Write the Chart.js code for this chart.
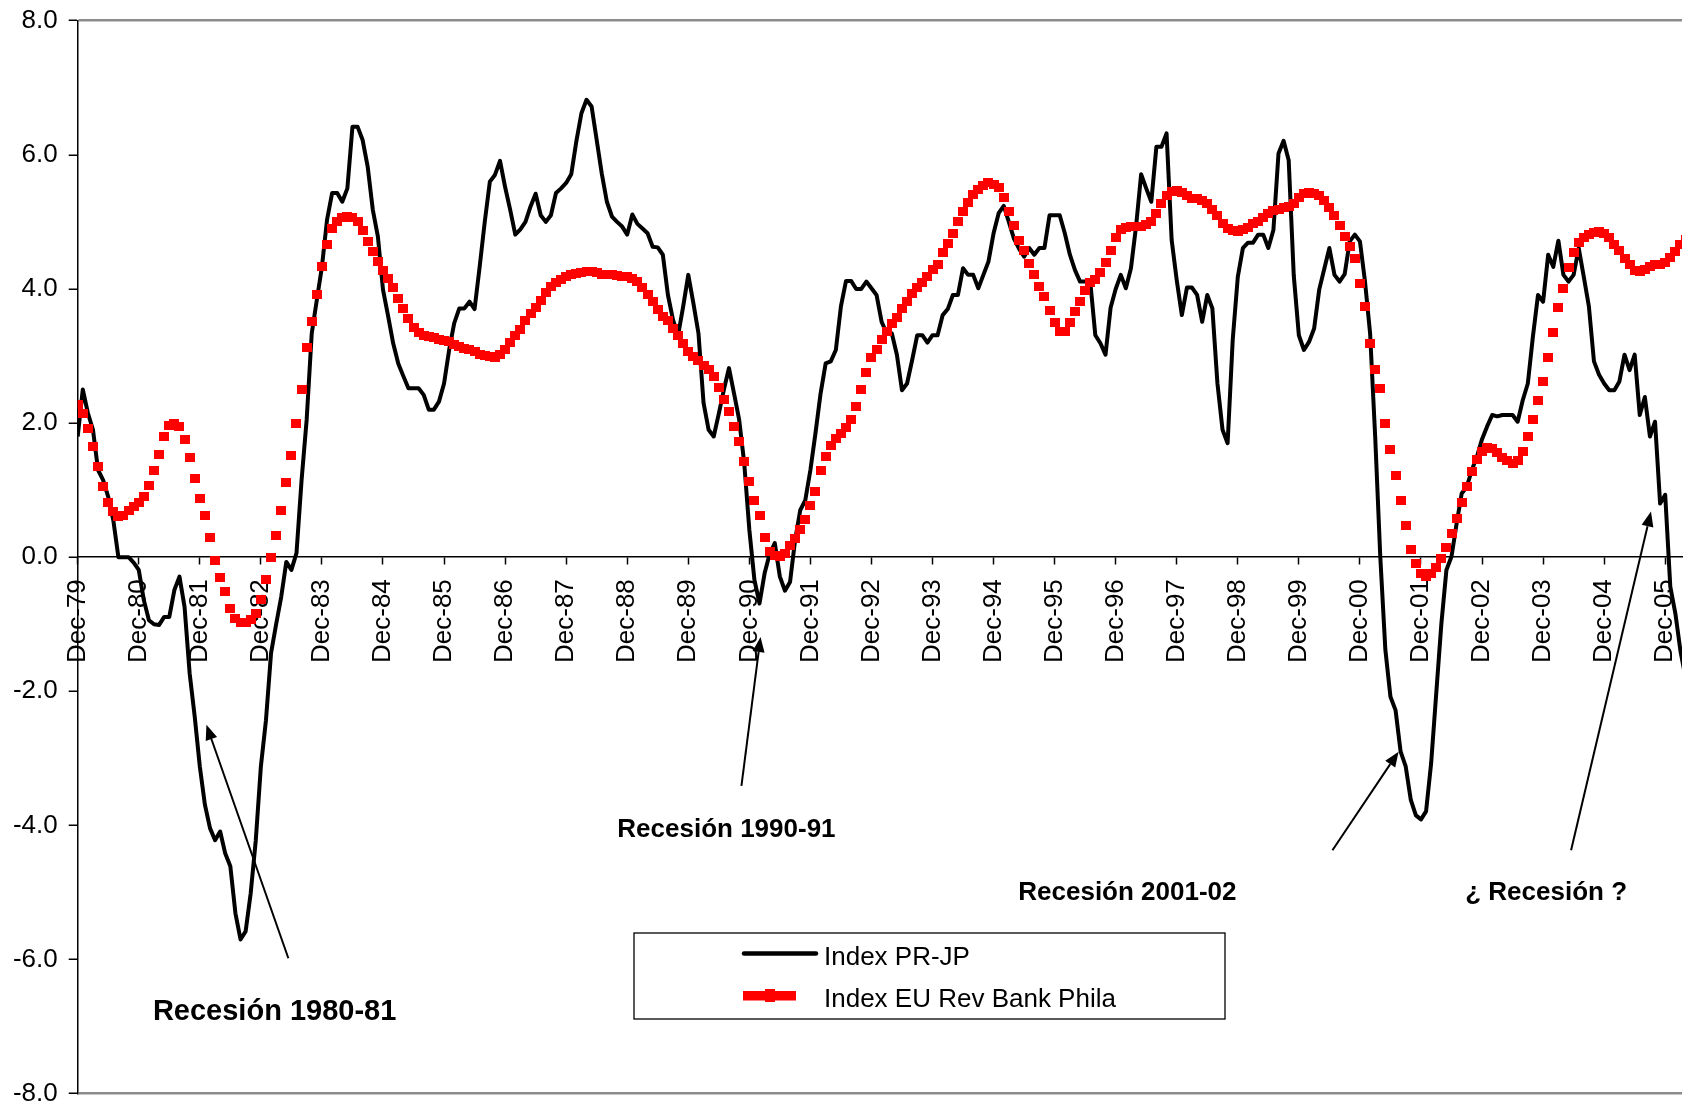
<!DOCTYPE html>
<html lang="es">
<head>
<meta charset="UTF-8">
<title>Index PR-JP vs Index EU Rev Bank Phila</title>
<script src="https://cdn.jsdelivr.net/npm/chart.js"></script>
<style>
  html, body { margin: 0; padding: 0; background: #fff; overflow: hidden; }
  #chart { display: block; }
</style>
</head>
<body>
<canvas id="chart" width="1688" height="1108"></canvas>
<script>
// one label per December, the x axis counts months from Dec-79
const yearLabels = ['Dec-79','Dec-80','Dec-81','Dec-82','Dec-83','Dec-84','Dec-85','Dec-86','Dec-87',
  'Dec-88','Dec-89','Dec-90','Dec-91','Dec-92','Dec-93','Dec-94','Dec-95','Dec-96','Dec-97','Dec-98',
  'Dec-99','Dec-00','Dec-01','Dec-02','Dec-03','Dec-04','Dec-05'];

const seriesNames = ['Index PR-JP', 'Index EU Rev Bank Phila'];

// Index PR-JP, monthly from Dec-79 (one row = Dec..Nov)
const prValues = [
  1.80, 2.50, 2.15, 1.90, 1.30, 1.15, 0.90, 0.55, 0.00, 0.00, 0.00, -0.08,
  -0.19, -0.64, -0.94, -1.00, -1.01, -0.89, -0.89, -0.49, -0.29, -0.74, -1.73, -2.38,
  -3.12, -3.69, -4.04, -4.22, -4.09, -4.42, -4.61, -5.31, -5.70, -5.58, -5.01, -4.22,
  -3.12, -2.43, -1.43, -1.00, -0.59, -0.07, -0.19, 0.06, 1.15, 2.05, 3.34, 3.84,
  4.33, 5.03, 5.43, 5.43, 5.30, 5.50, 6.42, 6.42, 6.22, 5.82, 5.18, 4.78,
  3.99, 3.60, 3.19, 2.89, 2.70, 2.52, 2.52, 2.52, 2.42, 2.20, 2.20, 2.32,
  2.59, 3.09, 3.49, 3.71, 3.71, 3.81, 3.70, 4.33, 5.00, 5.60, 5.70, 5.91,
  5.52, 5.18, 4.81, 4.89, 5.00, 5.23, 5.42, 5.10, 5.00, 5.10, 5.43, 5.50,
  5.58, 5.71, 6.20, 6.62, 6.82, 6.72, 6.22, 5.72, 5.30, 5.08, 5.00, 4.93,
  4.81, 5.11, 4.97, 4.90, 4.83, 4.63, 4.62, 4.51, 3.91, 3.54, 3.31, 3.74,
  4.21, 3.79, 3.34, 2.30, 1.90, 1.80, 2.14, 2.50, 2.82, 2.44, 2.05, 1.40,
  0.41, -0.34, -0.69, -0.24, 0.05, 0.21, -0.29, -0.50, -0.37, 0.26, 0.70, 0.85,
  1.30, 1.85, 2.44, 2.89, 2.92, 3.09, 3.74, 4.12, 4.12, 4.00, 4.00, 4.11,
  4.01, 3.91, 3.51, 3.34, 3.34, 3.02, 2.49, 2.59, 2.94, 3.31, 3.31, 3.20,
  3.31, 3.31, 3.61, 3.70, 3.91, 3.91, 4.31, 4.21, 4.21, 4.01, 4.21, 4.41,
  4.83, 5.13, 5.24, 5.00, 4.75, 4.60, 4.48, 4.61, 4.51, 4.61, 4.61, 5.10,
  5.10, 5.10, 4.83, 4.51, 4.28, 4.11, 4.11, 4.11, 3.31, 3.19, 3.02, 3.72,
  4.00, 4.21, 4.01, 4.31, 4.93, 5.71, 5.50, 5.30, 6.12, 6.12, 6.32, 4.73,
  4.13, 3.61, 4.02, 4.02, 3.91, 3.51, 3.91, 3.71, 2.59, 1.90, 1.70, 3.24,
  4.18, 4.61, 4.69, 4.69, 4.81, 4.81, 4.61, 4.88, 6.02, 6.21, 5.92, 4.20,
  3.31, 3.09, 3.21, 3.41, 3.99, 4.30, 4.61, 4.21, 4.11, 4.22, 4.71, 4.81,
  4.71, 4.11, 3.34, 1.80, 0.01, -1.38, -2.08, -2.28, -2.90, -3.12, -3.62, -3.85,
  -3.91, -3.79, -3.07, -2.03, -1.00, -0.19, 0.01, 0.50, 0.95, 1.05, 1.30, 1.50,
  1.76, 1.95, 2.12, 2.10, 2.12, 2.12, 2.12, 2.02, 2.34, 2.59, 3.29, 3.91,
  3.81, 4.51, 4.33, 4.72, 4.21, 4.11, 4.21, 4.61, 4.18, 3.74, 2.92, 2.72,
  2.59, 2.49, 2.49, 2.62, 3.02, 2.79, 3.02, 2.12, 2.39, 1.80, 2.02, 0.80,
  0.93, -0.44, -0.84, -1.40, -1.80
];

// Index EU Rev Bank Phila, monthly from Dec-79
const philaValues = [
  2.27, 2.15, 1.92, 1.65, 1.35, 1.05, 0.82, 0.68, 0.61, 0.62, 0.69, 0.76,
  0.82, 0.91, 1.07, 1.30, 1.53, 1.80, 1.96, 1.99, 1.95, 1.75, 1.48, 1.17,
  0.88, 0.62, 0.30, -0.05, -0.31, -0.51, -0.77, -0.92, -0.98, -0.98, -0.93, -0.84,
  -0.63, -0.33, 0.00, 0.33, 0.70, 1.12, 1.52, 1.99, 2.50, 3.13, 3.51, 3.92,
  4.33, 4.66, 4.90, 5.01, 5.06, 5.08, 5.07, 5.00, 4.87, 4.71, 4.56, 4.41,
  4.28, 4.16, 4.02, 3.86, 3.71, 3.56, 3.42, 3.35, 3.31, 3.29, 3.27, 3.25,
  3.23, 3.21, 3.17, 3.14, 3.11, 3.09, 3.06, 3.03, 3.01, 2.99, 2.98, 3.02,
  3.10, 3.20, 3.30, 3.40, 3.53, 3.64, 3.73, 3.83, 3.94, 4.03, 4.09, 4.14,
  4.18, 4.21, 4.23, 4.25, 4.26, 4.26, 4.24, 4.21, 4.21, 4.21, 4.20, 4.19,
  4.18, 4.16, 4.11, 4.02, 3.92, 3.82, 3.70, 3.59, 3.53, 3.41, 3.30, 3.18,
  3.07, 3.00, 2.93, 2.86, 2.80, 2.70, 2.53, 2.35, 2.18, 1.95, 1.73, 1.43,
  1.13, 0.85, 0.62, 0.30, 0.08, 0.02, 0.01, 0.06, 0.18, 0.28, 0.42, 0.56,
  0.77, 0.98, 1.30, 1.50, 1.66, 1.77, 1.85, 1.94, 2.06, 2.25, 2.50, 2.75,
  2.98, 3.10, 3.24, 3.36, 3.48, 3.58, 3.71, 3.81, 3.93, 4.02, 4.10, 4.19,
  4.29, 4.37, 4.55, 4.68, 4.83, 5.00, 5.16, 5.29, 5.41, 5.49, 5.55, 5.58,
  5.56, 5.51, 5.37, 5.15, 4.95, 4.72, 4.57, 4.38, 4.22, 4.04, 3.88, 3.68,
  3.50, 3.37, 3.36, 3.50, 3.66, 3.82, 3.98, 4.09, 4.14, 4.24, 4.40, 4.58,
  4.76, 4.88, 4.92, 4.93, 4.93, 4.93, 4.96, 5.01, 5.12, 5.28, 5.40, 5.46,
  5.47, 5.44, 5.39, 5.35, 5.35, 5.32, 5.27, 5.19, 5.09, 4.98, 4.90, 4.87,
  4.85, 4.88, 4.92, 4.97, 5.01, 5.07, 5.13, 5.17, 5.19, 5.21, 5.23, 5.28,
  5.37, 5.42, 5.44, 5.43, 5.39, 5.32, 5.22, 5.09, 4.95, 4.78, 4.64, 4.45,
  4.08, 3.74, 3.18, 2.80, 2.52, 2.00, 1.60, 1.22, 0.85, 0.48, 0.12, -0.10,
  -0.25, -0.29, -0.25, -0.16, -0.02, 0.15, 0.36, 0.58, 0.82, 1.05, 1.28, 1.46,
  1.58, 1.64, 1.62, 1.56, 1.48, 1.44, 1.40, 1.44, 1.58, 1.80, 2.05, 2.34,
  2.62, 2.98, 3.35, 3.72, 4.00, 4.32, 4.55, 4.70, 4.77, 4.81, 4.84, 4.85,
  4.82, 4.76, 4.67, 4.57, 4.46, 4.36, 4.28, 4.26, 4.29, 4.34, 4.36, 4.36,
  4.39, 4.47, 4.56, 4.66, 4.74
];

// recession notes, placed in chart units (month, value)
const noteTexts = ['Recesión 1980-81', 'Recesión 1990-91', 'Recesión 2001-02', '¿ Recesión ?'];
const noteMonths = [38.7, 127.5, 206.3, 288.6];
const noteValues = [-6.90, -4.17, -5.11, -5.11];
const noteSizes = [29, 26, 26, 26];
const arrowFrom = [[41.4, -5.98], [130.45, -3.41], [246.6, -4.37], [293.5, -4.37]];
const arrowTo = [[25.3, -2.50], [134.2, -1.19], [259.6, -2.90], [309.2, 0.68]];

const FONT = '"Liberation Sans", Arial, sans-serif';
Chart.defaults.font.family = FONT;
Chart.defaults.color = '#000';

// solid red square marker, the way the spreadsheet draws it
const redSquare = document.createElement('canvas');
redSquare.width = 10;
redSquare.height = 9;
const sq = redSquare.getContext('2d');
sq.fillStyle = '#ff0000';
sq.fillRect(0, 0, 10, 9);

// keep the square markers crisp instead of blurred at sub-pixel positions
const crispMarkers = {
  id: 'crispMarkers',
  beforeDatasetsDraw(chart) { chart.ctx.imageSmoothingEnabled = false; },
  afterDatasetsDraw(chart) { chart.ctx.imageSmoothingEnabled = true; }
};

const notesPlugin = {
  id: 'recessionNotes',
  afterDatasetsDraw(chart) {
    const { ctx, scales: { x, y } } = chart;
    ctx.save();
    ctx.fillStyle = '#000';
    ctx.strokeStyle = '#000';
    ctx.lineWidth = 2;
    arrowFrom.forEach((from, i) => {
      const x0 = x.getPixelForValue(from[0]), y0 = y.getPixelForValue(from[1]);
      const x1 = x.getPixelForValue(arrowTo[i][0]), y1 = y.getPixelForValue(arrowTo[i][1]);
      const a = Math.atan2(y1 - y0, x1 - x0), len = 15, half = 6;
      const bx = x1 - len * Math.cos(a), by = y1 - len * Math.sin(a);
      ctx.beginPath(); ctx.moveTo(x0, y0); ctx.lineTo(bx, by); ctx.stroke();
      ctx.beginPath();
      ctx.moveTo(x1, y1);
      ctx.lineTo(bx + half * Math.sin(a), by - half * Math.cos(a));
      ctx.lineTo(bx - half * Math.sin(a), by + half * Math.cos(a));
      ctx.closePath(); ctx.fill();
    });
    ctx.textAlign = 'center';
    ctx.textBaseline = 'alphabetic';
    noteTexts.forEach((t, i) => {
      ctx.font = `bold ${noteSizes[i]}px ${FONT}`;
      ctx.fillText(t, x.getPixelForValue(noteMonths[i]), y.getPixelForValue(noteValues[i]));
    });
    ctx.restore();
  }
};

// boxed legend sitting inside the plot, like the original
const legendPlugin = {
  id: 'boxLegend',
  afterDraw(chart) {
    const ctx = chart.ctx;
    ctx.save();
    ctx.fillStyle = '#fff';
    ctx.fillRect(634, 933, 591, 86);
    ctx.strokeStyle = '#000';
    ctx.lineWidth = 1.3;
    ctx.strokeRect(634, 933, 591, 86);
    ctx.lineWidth = 4.5;
    ctx.lineCap = 'round';
    ctx.beginPath(); ctx.moveTo(744, 953.5); ctx.lineTo(816, 953.5); ctx.stroke();
    ctx.fillStyle = '#ff0000';
    ctx.fillRect(743, 991, 53, 9.5);
    ctx.fillRect(765, 989, 10, 13);
    ctx.fillStyle = '#000';
    ctx.font = `26px ${FONT}`;
    ctx.textAlign = 'left';
    ctx.fillText(seriesNames[0], 824, 965);
    ctx.fillText(seriesNames[1], 824, 1007);
    ctx.restore();
  }
};

new Chart(document.getElementById('chart'), {
  type: 'line',
  data: {
    datasets: [
      {
        label: seriesNames[0],
        data: prValues.map((v, i) => ({ x: i, y: v })),
        borderColor: '#000',
        borderWidth: 4,
        borderJoinStyle: 'round',
        pointRadius: 0,
        tension: 0,
        order: 1
      },
      {
        label: seriesNames[1],
        data: philaValues.map((v, i) => ({ x: i, y: v })),
        showLine: false,
        pointStyle: redSquare,
        pointRadius: 5,
        order: 0
      }
    ]
  },
  options: {
    responsive: false,
    animation: false,
    devicePixelRatio: 1,
    layout: { padding: { top: 20.7, bottom: 14.3, left: 0, right: 0 } },
    plugins: { legend: { display: false }, tooltip: { enabled: false } },
    scales: {
      x: {
        type: 'linear',
        min: 0,
        max: 315.3,
        position: { y: 0 },
        afterBuildTicks: s => { s.ticks = s.ticks.filter(t => t.value % 12 === 0); },
        ticks: {
          stepSize: 12, autoSkip: false, includeBounds: false,
          minRotation: 90, maxRotation: 90, padding: 15,
          font: { size: 26, lineHeight: 0.2 },
          callback: v => yearLabels[Math.round(v / 12)]
        },
        grid: { drawOnChartArea: false, tickLength: 7, tickColor: '#000', tickWidth: 1.5 },
        border: { color: '#000', width: 1.5 }
      },
      y: {
        min: -8,
        max: 8,
        afterFit: s => { s.width = 77.7; },
        ticks: { stepSize: 2, padding: 11, font: { size: 26, lineHeight: 0.2 }, callback: v => v.toFixed(1) },
        grid: {
          color: c => (c.tick && Math.abs(c.tick.value) === 8) ? '#8c8c8c' : 'rgba(0,0,0,0)',
          lineWidth: 2.5,
          tickLength: 9,
          tickColor: '#000',
          tickWidth: 1.5
        },
        border: { color: '#000', width: 1.5 }
      }
    }
  },
  plugins: [crispMarkers, notesPlugin, legendPlugin]
});
</script>
</body>
</html>
